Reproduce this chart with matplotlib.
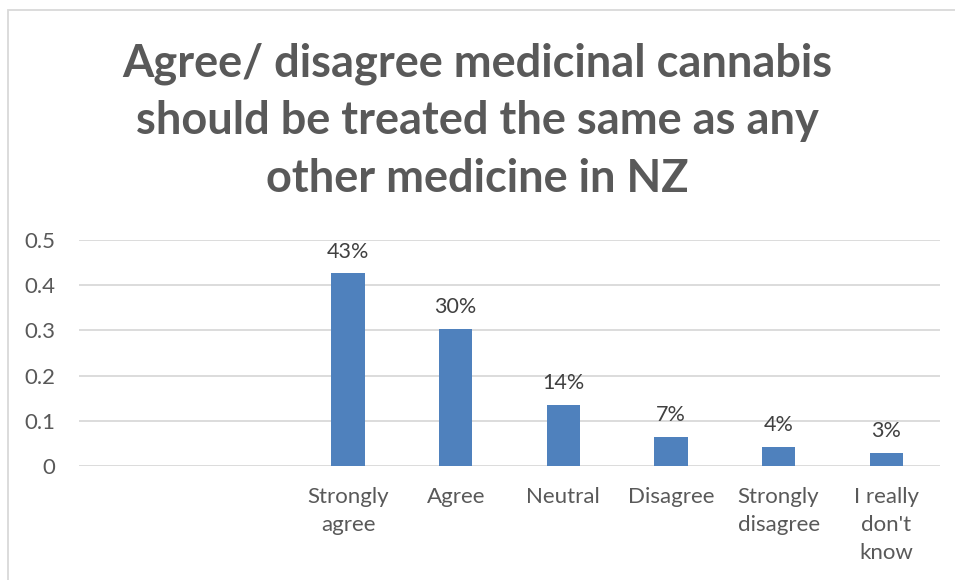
import matplotlib
matplotlib.use("Agg")
import matplotlib.pyplot as plt
from matplotlib.patches import Rectangle

# datos
categorias = ["", "", "Strongly\nagree", "Agree", "Neutral", "Disagree",
              "Strongly\ndisagree", "I really\ndon't\nknow"]
valores = [0, 0, 0.426, 0.303, 0.135, 0.065, 0.042, 0.029]
etiquetas = ["", "", "43%", "30%", "14%", "7%", "4%", "3%"]
yticks = [0, 0.1, 0.2, 0.3, 0.4, 0.5]

titulo = "Agree/ disagree medicinal cannabis\nshould be treated the same as any\nother medicine in NZ"

gris = "#595959"
azul = "#4F81BD"

plt.rcParams["font.family"] = ["Lato", "DejaVu Sans"]

fig = plt.figure(figsize=(9.55, 5.8), dpi=100)
W, H = 955, 580
ax = fig.add_axes([79 / W, 1 - 466 / H, (940 - 79) / W, (466 - 240) / H])

x = list(range(len(categorias)))
barras = ax.bar(x, valores, width=0.31, color=azul, zorder=3)
for b, t in zip(barras, etiquetas):
    if t:
        ax.text(b.get_x() + b.get_width() / 2, b.get_height() + 0.026, t,
                ha="center", va="bottom", fontsize=15.5, color="#404040")

ax.set_xlim(-0.5, len(categorias) - 0.5)
ax.set_ylim(0, 0.5)
ax.set_yticks(yticks)
ax.set_yticklabels(["0", "0.1", "0.2", "0.3", "0.4", "0.5"])
ax.set_xticks(x)
ax.set_xticklabels(categorias, linespacing=1.5)
ax.tick_params(axis="both", length=0, labelsize=16, colors=gris)
ax.tick_params(axis="x", pad=15)
ax.tick_params(axis="y", pad=17)
ax.grid(axis="y", color="#D9D9D9", linewidth=1.3, zorder=0)
for s in ax.spines.values():
    s.set_visible(False)

# marco del grafico
fig.patches.append(Rectangle((8 / W, -0.1), 1.2, 1 - 10 / H + 0.1,
                             transform=fig.transFigure, fill=False,
                             edgecolor="#D9D9D9", linewidth=1.3))

fig.text(0.5, 1 - 121 / H, titulo, ha="center", va="center", fontsize=32.5,
         fontweight="bold", color=gris, linespacing=1.45)

fig.savefig("out.png", dpi=100)
